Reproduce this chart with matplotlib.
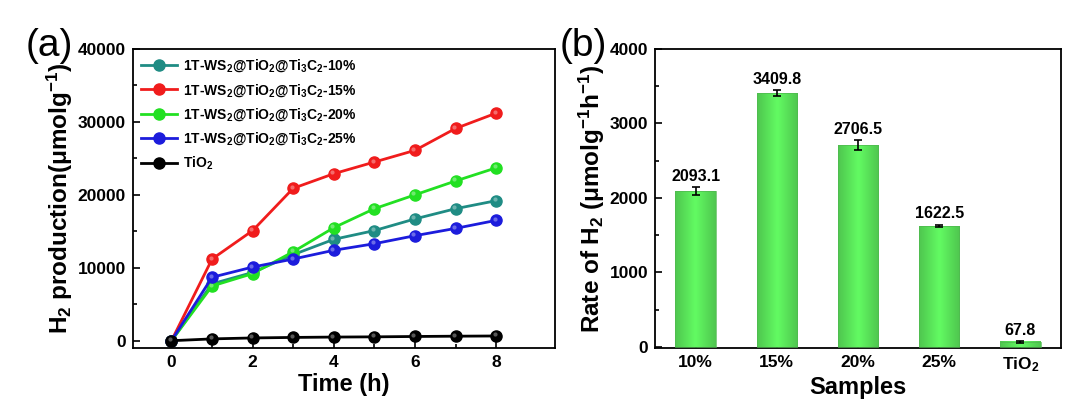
import numpy as np
import matplotlib
matplotlib.use("Agg")
import matplotlib.pyplot as plt
from matplotlib.transforms import ScaledTranslation
from matplotlib.colors import LinearSegmentedColormap

plt.rcParams['font.family'] = ['Liberation Sans', 'DejaVu Sans']
plt.rcParams['font.weight'] = 'bold'
plt.rcParams['axes.labelweight'] = 'bold'
plt.rcParams['mathtext.fontset'] = 'custom'
plt.rcParams['mathtext.rm'] = 'Liberation Sans:bold'
plt.rcParams['mathtext.bf'] = 'Liberation Sans:bold'
plt.rcParams['mathtext.it'] = 'Liberation Sans:bold'
plt.rcParams['mathtext.default'] = 'bf'

# (a) cumulative H2 production
time_h = [0, 1, 2, 3, 4, 5, 6, 7, 8]
h2_10 = [0, 7800, 9360, 11800, 13900, 15100, 16700, 18100, 19200]
h2_15 = [0, 11200, 15100, 20900, 22900, 24500, 26100, 29100, 31200]
h2_20 = [0, 7500, 9200, 12200, 15500, 18100, 20000, 21900, 23700]
h2_25 = [0, 8700, 10100, 11200, 12400, 13300, 14400, 15400, 16500]
h2_tio2 = [0, 250, 380, 450, 500, 530, 580, 620, 650]

series_labels = ['1T-WS$_2$@TiO$_2$@Ti$_3$C$_2$-10%',
                 '1T-WS$_2$@TiO$_2$@Ti$_3$C$_2$-15%',
                 '1T-WS$_2$@TiO$_2$@Ti$_3$C$_2$-20%',
                 '1T-WS$_2$@TiO$_2$@Ti$_3$C$_2$-25%',
                 'TiO$_2$']
series_colors = ['#1f8c84', '#f01c1c', '#22e022', '#1c1cdc', '#000000']

# (b) H2 evolution rate
samples = ['10%', '15%', '20%', '25%', 'TiO$_2$']
rates = [2093.1, 3409.8, 2706.5, 1622.5, 67.8]
rate_err = [55, 40, 65, 18, 12]

fig = plt.figure(figsize=(10.8, 3.99), dpi=100)
ax1 = fig.add_axes([0.1231, 0.1278, 0.3907, 0.7494])
ax2 = fig.add_axes([0.6065, 0.1278, 0.3759, 0.7494])

# ---- panel (a)
all_series = [h2_10, h2_15, h2_20, h2_25, h2_tio2]
hl = ScaledTranslation(-1.5 / 100, 1.5 / 100, fig.dpi_scale_trans)
for ys, c, lab in zip(all_series, series_colors, series_labels):
    ax1.plot(time_h, ys, '-o', color=c, lw=2, ms=8, mec=c, mfc=c, label=lab)
    # small highlight to mimic shaded balls
    ax1.plot(time_h, ys, 'o', color='white', alpha=0.35, ms=3, mew=0,
             transform=ax1.transData + hl)

ax1.set_xlim(-0.95, 9.45)
ax1.set_ylim(-1000, 40000)
ax1.set_xticks([0, 2, 4, 6, 8])
ax1.set_xticks([1, 3, 5, 7], minor=True)
ax1.set_yticks([0, 10000, 20000, 30000, 40000])
ax1.set_yticks([5000, 15000, 25000, 35000], minor=True)
ax1.set_xlabel('Time (h)', fontsize=17, labelpad=2)
ax1.set_ylabel('H$_2$ production(μmolg$^{-1}$)', fontsize=17.5, labelpad=2)
leg = ax1.legend(loc='upper left', frameon=False, fontsize=10, handlelength=2.6,
                 labelspacing=0.55, borderaxespad=0.2, handletextpad=0.4)

# ---- panel (b)
x = np.arange(1, len(samples) + 1)
grad = np.abs(np.linspace(-1, 1, 64))[None, :]
gcmap = LinearSegmentedColormap.from_list('g', ['#62fa62', '#4fc64f'])
for xi, v in zip(x, rates):
    ax2.imshow(grad, cmap=gcmap, aspect='auto', extent=[xi - 0.25, xi + 0.25, 0, v],
               zorder=2, interpolation='bicubic')
ax2.bar(x, rates, width=0.5, color='none', edgecolor='#4fb84f', lw=0.5, zorder=3)
ax2.errorbar(x, rates, yerr=rate_err, fmt='none', ecolor='black', elinewidth=1.2,
             capsize=3, capthick=1.2, zorder=4)
for xi, v, e in zip(x, rates, rate_err):
    ax2.text(xi, v + e + 45, f'{v}', ha='center', va='bottom', fontsize=11.5,
             fontweight='bold')

ax2.set_xlim(0.5, 5.5)
ax2.set_ylim(-15, 4000)
ax2.set_xticks(x)
ax2.set_xticklabels(samples)
ax2.set_yticks([0, 1000, 2000, 3000, 4000])
ax2.set_yticks([500, 1500, 2500, 3500], minor=True)
ax2.set_xlabel('Samples', fontsize=17, labelpad=2)
ax2.set_ylabel('Rate of H$_2$ (μmolg$^{-1}$h$^{-1}$)', fontsize=17.5, labelpad=2)

for ax in (ax1, ax2):
    for s in ax.spines.values():
        s.set_linewidth(1.3)
    ax.tick_params(which='both', direction='in', top=False, right=False,
                   labelsize=12.5, width=1.2, pad=5)
    ax.tick_params(which='major', length=5)
    ax.tick_params(which='minor', length=3)

fig.text(0.046, 0.885, '(a)', fontsize=28, fontweight='normal', ha='center', va='center')
fig.text(0.540, 0.885, '(b)', fontsize=28, fontweight='normal', ha='center', va='center')

fig.savefig('out.png', dpi=100)
